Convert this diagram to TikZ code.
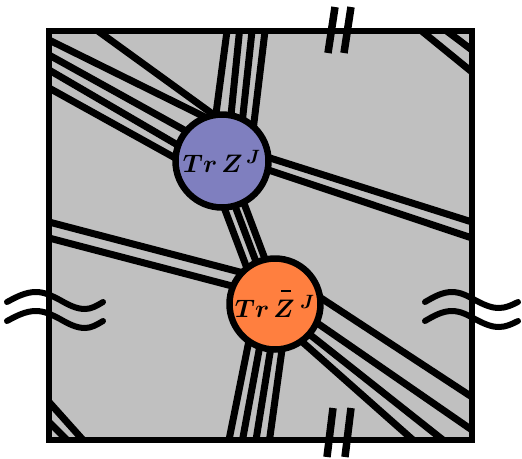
\documentclass[tikz,border=0pt]{standalone}
\usepackage{amsmath,bm}
\definecolor{bgray}{HTML}{C0C0C0}
\definecolor{zblue}{HTML}{7F7FBF}
\definecolor{zorange}{HTML}{FF7F3F}
\begin{document}
\begin{tikzpicture}[x=0.02cm,y=-0.02cm,
  band/.style={line width=0.14cm, shorten <=-0.4cm},
  bandtwo/.style={line width=0.14cm, shorten <=-0.4cm, shorten >=-0.4cm},
  frame/.style={line width=0.12cm},
  wave/.style={line width=0.12cm, line cap=round},
  slash/.style={line width=0.15cm},
  vert/.style={circle, draw=black, line width=0.13cm, inner sep=0pt,
    font=\fontsize{15}{18}\selectfont}]
\useasboundingbox (0,0) rectangle (522,458);
\coordinate (NW) at (49,31);
\coordinate (SE) at (472,440);
\fill[bgray] (NW) rectangle (SE);
\begin{scope}
\clip (NW) rectangle (SE);
% blue: up bundle
\draw[band] (227,31) -- (212.5,140);
\draw[band] (239.5,31) -- (228.5,140);
\draw[band] (252,31) -- (240.3,140);
\draw[band] (265,31) -- (251.9,140);
% blue: upper-left bundle
\draw[band] (98,31) -- (225,123);
\draw[band] (49,40) -- (215,122);
\draw[band] (49,55) -- (205,141.5);
\draw[band] (49,70) -- (205,161);
\draw[band] (49,88) -- (205,174.5);
% blue: right bundle
\draw[band] (472,222) -- (240,148.5);
\draw[band] (472,238) -- (240,160.5);
% middle bundle
\draw[line width=0.14cm] (215.6,185) -- (253.3,285);
\draw[line width=0.14cm] (227.1,185) -- (264.8,285);
\draw[line width=0.14cm] (237.1,185) -- (274.8,285);
% orange: left bundle
\draw[band] (49,222) -- (255,276);
\draw[band] (49,238) -- (255,292);
% orange: down bundle
\draw[band] (229,440) -- (252.1,325);
\draw[band] (242.5,440) -- (263.7,325);
\draw[band] (256,440) -- (274.5,325);
\draw[band] (269.5,440) -- (285.4,325);
% orange: lower-right bundle
\draw[band] (472,397) -- (295,281);
\draw[band] (472,430) -- (295,307.7);
\draw[band] (443,440) -- (295,322.8);
\draw[band] (413,440) -- (290,331);
% corners
\draw[bandtwo] (421.7,31) -- (472,72);
\draw[bandtwo] (446.7,31) -- (472,50);
\draw[bandtwo] (49,402) -- (83,440);
\draw[bandtwo] (49,422) -- (67,440);
\end{scope}
\node[vert, fill=zblue, minimum size=1.86cm] (zj) at (222,161)
  {$\bm{Tr}\,\bm{Z}^{\,\bm{J}}$};
\node[vert, fill=zorange, minimum size=1.82cm] (zbj) at (275,304)
  {$\bm{Tr}\,\rlap{\hspace{4.5pt}\rule[14.5pt]{5.5pt}{1.2pt}}\bm{Z}^{\;\bm{J}}$};
\draw[frame] (NW) rectangle (SE);
% identification marks
\draw[slash] (328,53) -- (335,7);
\draw[slash] (344,53) -- (351,7);
\draw[slash] (327,457) -- (333,408);
\draw[slash] (345,457) -- (351,408);
\draw[wave] (7,302) sin (36,292) cos (60,300) sin (85,309) cos (103,302);
\draw[wave] (7,321) sin (36,311) cos (60,319) sin (85,328) cos (103,321);
\draw[wave] (425,302) sin (452,292) cos (475,300) sin (499,308) cos (518,302);
\draw[wave] (425,321) sin (452,311) cos (475,319) sin (499,327) cos (518,321);
\end{tikzpicture}
\end{document}
